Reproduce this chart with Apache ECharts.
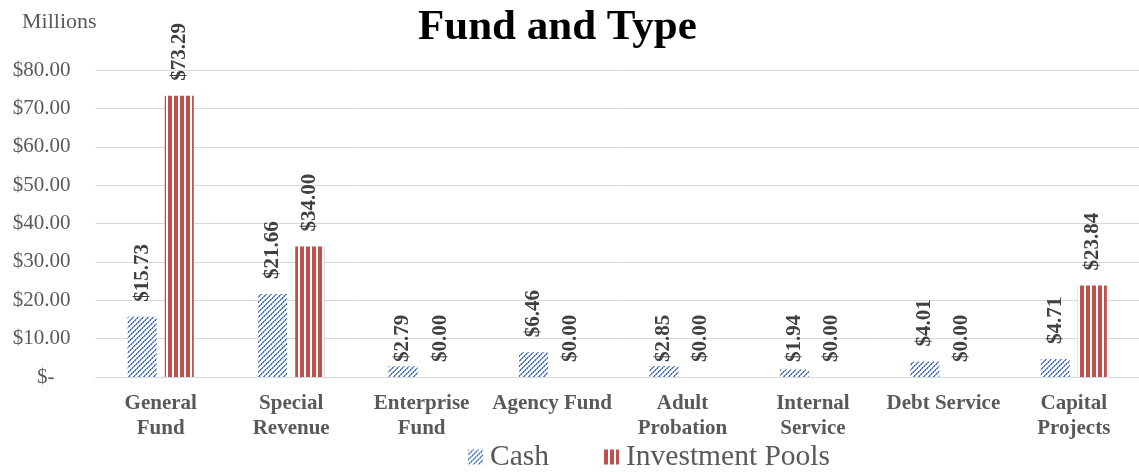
<!DOCTYPE html>
<html>
<head>
<meta charset="utf-8">
<script src="https://cdn.jsdelivr.net/npm/echarts@6/dist/echarts.min.js"></script>
<style>
  html, body { margin: 0; padding: 0; background: #fff; }
  #chart { width: 1139px; height: 472px; }
</style>
</head>
<body>
<div id="chart"></div>
<script>
const categories = ['General\nFund', 'Special\nRevenue', 'Enterprise\nFund', 'Agency Fund', 'Adult\nProbation', 'Internal\nService', 'Debt Service', 'Capital\nProjects'];
const cashValues = [15.73, 21.66, 2.79, 6.46, 2.85, 1.94, 4.01, 4.71];
const poolValues = [73.29, 34.00, 0.00, 0.00, 0.00, 0.00, 0.00, 23.84];
const seriesNames = ['Cash', 'Investment Pools'];
const yTicks = { min: 0, max: 80, interval: 10 };

const FONT = '"Liberation Serif", "Times New Roman", serif';

function cashPattern() {
  const n = 10;
  const c = document.createElement('canvas');
  c.width = n; c.height = n;
  const ctx = c.getContext('2d');
  ctx.fillStyle = '#ffffff';
  ctx.fillRect(0, 0, n, n);
  for (let i = 0; i < n; i++) {
    const y = n - 1 - i;
    ctx.fillStyle = (i % 2 === 0) ? '#3A67BD' : '#6D90D3';
    ctx.fillRect(i, y, 1, 1);
    ctx.fillRect((i + 5) % n, y, 1, 1);
    ctx.fillStyle = (i % 2 === 0) ? '#9CB3E2' : '#4472C4';
    ctx.fillRect((i + 1) % n, y, 1, 1);
    ctx.fillRect((i + 6) % n, y, 1, 1);
  }
  return c;
}
function poolPattern() {
  const c = document.createElement('canvas');
  c.width = 6; c.height = 4;
  const ctx = c.getContext('2d');
  ctx.fillStyle = '#ffffff';
  ctx.fillRect(0, 0, 6, 4);
  ctx.fillStyle = '#C0504D';
  ctx.fillRect(0, 0, 4, 4);
  return c;
}

const chart = echarts.init(document.getElementById('chart'), null, { renderer: 'canvas' });

const labelBase = {
  show: true,
  position: 'top',
  distance: 15,
  rotate: 90,
  align: 'left',
  verticalAlign: 'middle',
  fontFamily: FONT,
  fontWeight: 'bold',
  fontSize: 21,
  color: '#404040',
  formatter: p => '$' + Number(p.value).toFixed(2)
};

function buildData(values, pxPerUnit) {
  return values.map(v => {
    const h = v * pxPerUnit;
    if (pxPerUnit && h < 13) {
      return { value: v, label: { distance: 15 - h } };
    }
    return { value: v };
  });
}

const option = {
  animation: false,
  backgroundColor: '#ffffff',
  title: [
    {
      text: 'Fund and Type',
      left: 418,
      top: 6,
      padding: 0,
      textStyle: { fontFamily: FONT, fontWeight: 'bold', fontSize: 43, color: '#000000' }
    },
    {
      text: 'Millions',
      left: 22,
      top: 11,
      padding: 0,
      textStyle: { fontFamily: FONT, fontWeight: 'normal', fontSize: 22, color: '#595959' }
    }
  ],
  legend: {
    data: seriesNames,
    left: 468,
    top: 442,
    padding: 0,
    itemWidth: 15,
    itemHeight: 15,
    itemGap: 55,
    icon: 'rect',
    textStyle: { fontFamily: FONT, fontSize: 29.5, color: '#595959', padding: [0, 0, 0, 2] }
  },
  grid: { left: 95.5, right: -4.5, top: 70, bottom: 95, containLabel: false },
  xAxis: {
    type: 'category',
    data: categories,
    axisTick: { show: false },
    axisLine: { show: true, lineStyle: { color: '#D9D9D9', width: 1 } },
    axisLabel: {
      interval: 0,
      margin: 14,
      fontFamily: FONT,
      fontWeight: 'bold',
      fontSize: 21,
      lineHeight: 25,
      color: '#595959'
    }
  },
  yAxis: {
    type: 'value',
    min: yTicks.min,
    max: yTicks.max,
    interval: yTicks.interval,
    axisLine: { show: false },
    axisTick: { show: false },
    splitLine: { lineStyle: { color: '#D9D9D9', width: 1 } },
    axisLabel: {
      margin: 25,
      fontFamily: FONT,
      fontSize: 21,
      color: '#595959',
      formatter: v => v === 0 ? '{z|$-}' : '$' + v.toFixed(2),
      rich: { z: { fontFamily: FONT, fontSize: 21, color: '#595959', padding: [0, 16, 0, 0] } }
    }
  },
  series: [
    {
      name: seriesNames[0],
      type: 'bar',
      barWidth: 29,
      barGap: '28%',
      data: buildData(cashValues, 0),
      itemStyle: { color: { image: cashPattern(), repeat: 'repeat' } },
      label: labelBase
    },
    {
      name: seriesNames[1],
      type: 'bar',
      barWidth: 29,
      barGap: '28%',
      data: buildData(poolValues, 0),
      itemStyle: { color: { image: poolPattern(), repeat: 'repeat' } },
      label: labelBase
    }
  ]
};

chart.setOption(option);
const y0 = chart.convertToPixel({ yAxisIndex: 0 }, 0);
const y1 = chart.convertToPixel({ yAxisIndex: 0 }, 1);
const pxPerUnit = Math.abs(y0 - y1);
chart.setOption({
  series: [
    { data: buildData(cashValues, pxPerUnit) },
    { data: buildData(poolValues, pxPerUnit) }
  ]
});
</script>
</body>
</html>
